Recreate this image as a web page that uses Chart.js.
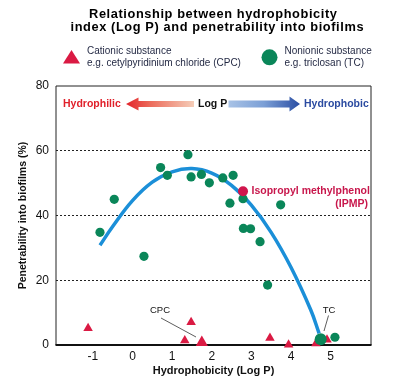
<!DOCTYPE html>
<html>
<head>
<meta charset="utf-8">
<script src="https://cdn.jsdelivr.net/npm/chart.js@4.4.0/dist/chart.umd.min.js"></script>
<style>
html,body{margin:0;padding:0;background:#fff;}
#wrap{width:401px;height:381px;position:relative;}
</style>
</head>
<body>
<div id="wrap"><canvas id="c" width="401" height="381"></canvas></div>
<script>
// ---- data ----
const nonionicX = [-0.82, -0.46, 0.29, 0.71, 0.88, 1.40, 1.48, 1.74, 1.94, 2.28, 2.54, 2.46, 2.79, 3.74, 2.80, 2.98, 3.22, 3.41, 5.11];
const nonionicY = [34.8, 45.0, 27.4, 54.8, 52.4, 58.8, 51.9, 52.7, 50.1, 51.6, 52.4, 43.8, 45.2, 43.3, 36.0, 35.9, 31.9, 18.5, 2.4];
const tcX = [4.75];
const tcY = [1.8];
const ipmpX = [2.79];
const ipmpY = [47.5];
const cationicX = [-1.12, 1.48, 1.32, 3.47, 3.94, 4.63, 4.91];
const cationicY = [5.2, 7.0, 1.4, 2.2, 0.1, 0.5, 1.6];
const cpcX = [1.75];
const cpcY = [0.8];
const trendX = [-0.82, -0.5, 0, 0.5, 1, 1.5, 2, 2.5, 3, 3.5, 4, 4.5, 4.71];
const trendY = [30.8, 36.6, 44.6, 50.3, 53.5, 54.5, 53.1, 49.3, 43.2, 34.8, 24.0, 10.8, 3.6];
const xTicks = [-1, 0, 1, 2, 3, 4, 5];
const yTicks = [0, 20, 40, 60, 80];

const pts = (xs, ys) => xs.map((x, i) => ({x: x, y: ys[i]}));

const GREEN = '#0a8659';
const RED = '#da1a43';
const FONT = '"Liberation Sans", Arial, sans-serif';

const decor = {
  id: 'decor',
  beforeDatasetsDraw(chart) {
    const ctx = chart.ctx, a = chart.chartArea;
    ctx.save();
    ctx.strokeStyle = '#222';
    ctx.lineWidth = 1;
    ctx.beginPath();
    ctx.moveTo(a.left, a.bottom); ctx.lineTo(a.left, a.top); ctx.lineTo(a.right, a.top); ctx.lineTo(a.right, a.bottom);
    ctx.stroke();
    ctx.lineWidth = 2;
    ctx.strokeStyle = '#111';
    ctx.beginPath();
    ctx.moveTo(a.left - 0.5, a.bottom); ctx.lineTo(a.right + 0.5, a.bottom);
    ctx.stroke();
    ctx.restore();
  },
  afterDraw(chart) {
    const ctx = chart.ctx;
    ctx.save();
    // title
    ctx.fillStyle = '#000';
    ctx.textAlign = 'center';
    ctx.textBaseline = 'middle';
    ctx.font = 'bold 12.8px ' + FONT;
    ctx.letterSpacing = '0.6px';
    ctx.fillText('Relationship between hydrophobicity', 213.3, 14);
    ctx.fillText('index (Log P) and penetrability into biofilms', 217.3, 27);
    ctx.letterSpacing = '0px';

    // legend
    ctx.fillStyle = RED;
    ctx.beginPath();
    ctx.moveTo(71.5, 50); ctx.lineTo(80, 63.5); ctx.lineTo(63, 63.5); ctx.closePath(); ctx.fill();
    ctx.fillStyle = GREEN;
    ctx.beginPath(); ctx.arc(269.5, 57.3, 8, 0, Math.PI * 2); ctx.fill();
    ctx.fillStyle = '#1f2540';
    ctx.textAlign = 'left';
    ctx.font = '10px ' + FONT;
    ctx.fillText('Cationic substance', 87, 51.7);
    ctx.fillText('e.g. cetylpyridinium chloride (CPC)', 87, 63.5);
    ctx.fillText('Nonionic substance', 284.5, 51.7);
    ctx.fillText('e.g. triclosan (TC)', 284.5, 63.5);

    // direction arrows
    const ay = 104;
    let g = ctx.createLinearGradient(126, 0, 194, 0);
    g.addColorStop(0, '#e3232a'); g.addColorStop(0.35, '#ec6a5a'); g.addColorStop(1, '#f5cdb8');
    ctx.fillStyle = g;
    ctx.beginPath();
    ctx.moveTo(126, ay); ctx.lineTo(138.5, ay - 6.5); ctx.lineTo(138.5, ay - 3); ctx.lineTo(194, ay - 3);
    ctx.lineTo(194, ay + 3); ctx.lineTo(138.5, ay + 3); ctx.lineTo(138.5, ay + 6.5); ctx.closePath(); ctx.fill();
    g = ctx.createLinearGradient(228, 0, 300, 0);
    g.addColorStop(0, '#a9c3e6'); g.addColorStop(0.5, '#7b9fd6'); g.addColorStop(1, '#2b4ea3');
    ctx.fillStyle = g;
    ctx.beginPath();
    ctx.moveTo(300, ay); ctx.lineTo(289.5, ay - 7.5); ctx.lineTo(289.5, ay - 3.5); ctx.lineTo(228.5, ay - 3.5);
    ctx.lineTo(228.5, ay + 3.5); ctx.lineTo(289.5, ay + 3.5); ctx.lineTo(289.5, ay + 7.5); ctx.closePath(); ctx.fill();

    ctx.font = 'bold 10.5px ' + FONT;
    ctx.textAlign = 'left';
    ctx.fillStyle = '#e0202a';
    ctx.fillText('Hydrophilic', 63, ay);
    ctx.fillStyle = '#111';
    ctx.fillText('Log P', 198, ay);
    ctx.fillStyle = '#2a4aa0';
    ctx.fillText('Hydrophobic', 304, ay);

    // IPMP label
    ctx.fillStyle = '#c8174c';
    ctx.font = 'bold 10.5px ' + FONT;
    ctx.textAlign = 'left';
    ctx.fillText('Isopropyl methylphenol', 251.5, 191);
    ctx.textAlign = 'right';
    ctx.fillText('(IPMP)', 368, 204);

    // CPC / TC callouts
    ctx.strokeStyle = '#333';
    ctx.lineWidth = 0.8;
    ctx.beginPath(); ctx.moveTo(161, 318); ctx.lineTo(196, 337); ctx.stroke();
    ctx.beginPath(); ctx.moveTo(328.5, 315.5); ctx.lineTo(324, 331); ctx.stroke();
    ctx.fillStyle = '#111';
    ctx.font = '9.5px ' + FONT;
    ctx.textAlign = 'center';
    ctx.fillText('CPC', 160, 310);
    ctx.fillText('TC', 329, 310);
    ctx.restore();
  }
};

new Chart(document.getElementById('c'), {
  type: 'scatter',
  data: {
    datasets: [
      { type: 'line', data: pts(trendX, trendY), borderColor: '#1b8fd8', borderWidth: 3.5,
        pointRadius: 0, tension: 0.4, fill: false, order: 4, clip: false },
      { data: pts(nonionicX, nonionicY), backgroundColor: GREEN, borderWidth: 0, pointRadius: 4.6, order: 3, clip: false },
      { data: pts(cationicX, cationicY), backgroundColor: RED, borderWidth: 0, pointStyle: 'triangle', pointRadius: 5.5, order: 2, clip: false },
      { data: pts(cpcX, cpcY), backgroundColor: RED, borderWidth: 0, pointStyle: 'triangle', pointRadius: 7, order: 1, clip: false },
      { data: pts(tcX, tcY), backgroundColor: GREEN, borderWidth: 0, pointRadius: 6, order: 0, clip: false },
      { data: pts(ipmpX, ipmpY), backgroundColor: '#d0154c', borderWidth: 0, pointRadius: 5, order: 0, clip: false }
    ]
  },
  options: {
    responsive: false,
    animation: false,
    events: [],
    layout: { padding: { top: 86, right: 30, left: 0, bottom: 0 } },
    plugins: { legend: { display: false }, tooltip: { enabled: false }, title: { display: false } },
    scales: {
      x: {
        type: 'linear', min: -1.93, max: 6.02,
        afterBuildTicks: s => { s.ticks = xTicks.map(v => ({value: v})); },
        afterFit: s => { s.height = 36; },
        grid: { display: false, drawTicks: false },
        border: { display: false },
        ticks: { color: '#111', font: { family: FONT, size: 12 }, padding: 4 },
        title: { display: true, text: 'Hydrophobicity (Log P)', color: '#111',
                 font: { family: FONT, size: 11, weight: 'bold' }, padding: { top: 0, bottom: 3 } }
      },
      y: {
        min: 0, max: 80,
        afterBuildTicks: s => { s.ticks = yTicks.map(v => ({value: v})); },
        afterFit: s => { s.width = 56; },
        grid: { drawTicks: false, lineWidth: 1,
                color: c => (c.tick && (c.tick.value === 0 || c.tick.value === 80)) ? 'rgba(0,0,0,0)' : '#222' },
        border: { display: false, dash: [2, 2] },
        ticks: { color: '#111', font: { family: FONT, size: 12 }, padding: 7 },
        title: { display: true, text: 'Penetrability into biofilms (%)', color: '#111',
                 font: { family: FONT, size: 10.5, weight: 'bold' }, padding: { top: 17, bottom: 0 } }
      }
    }
  },
  plugins: [decor]
});
</script>
</body>
</html>
